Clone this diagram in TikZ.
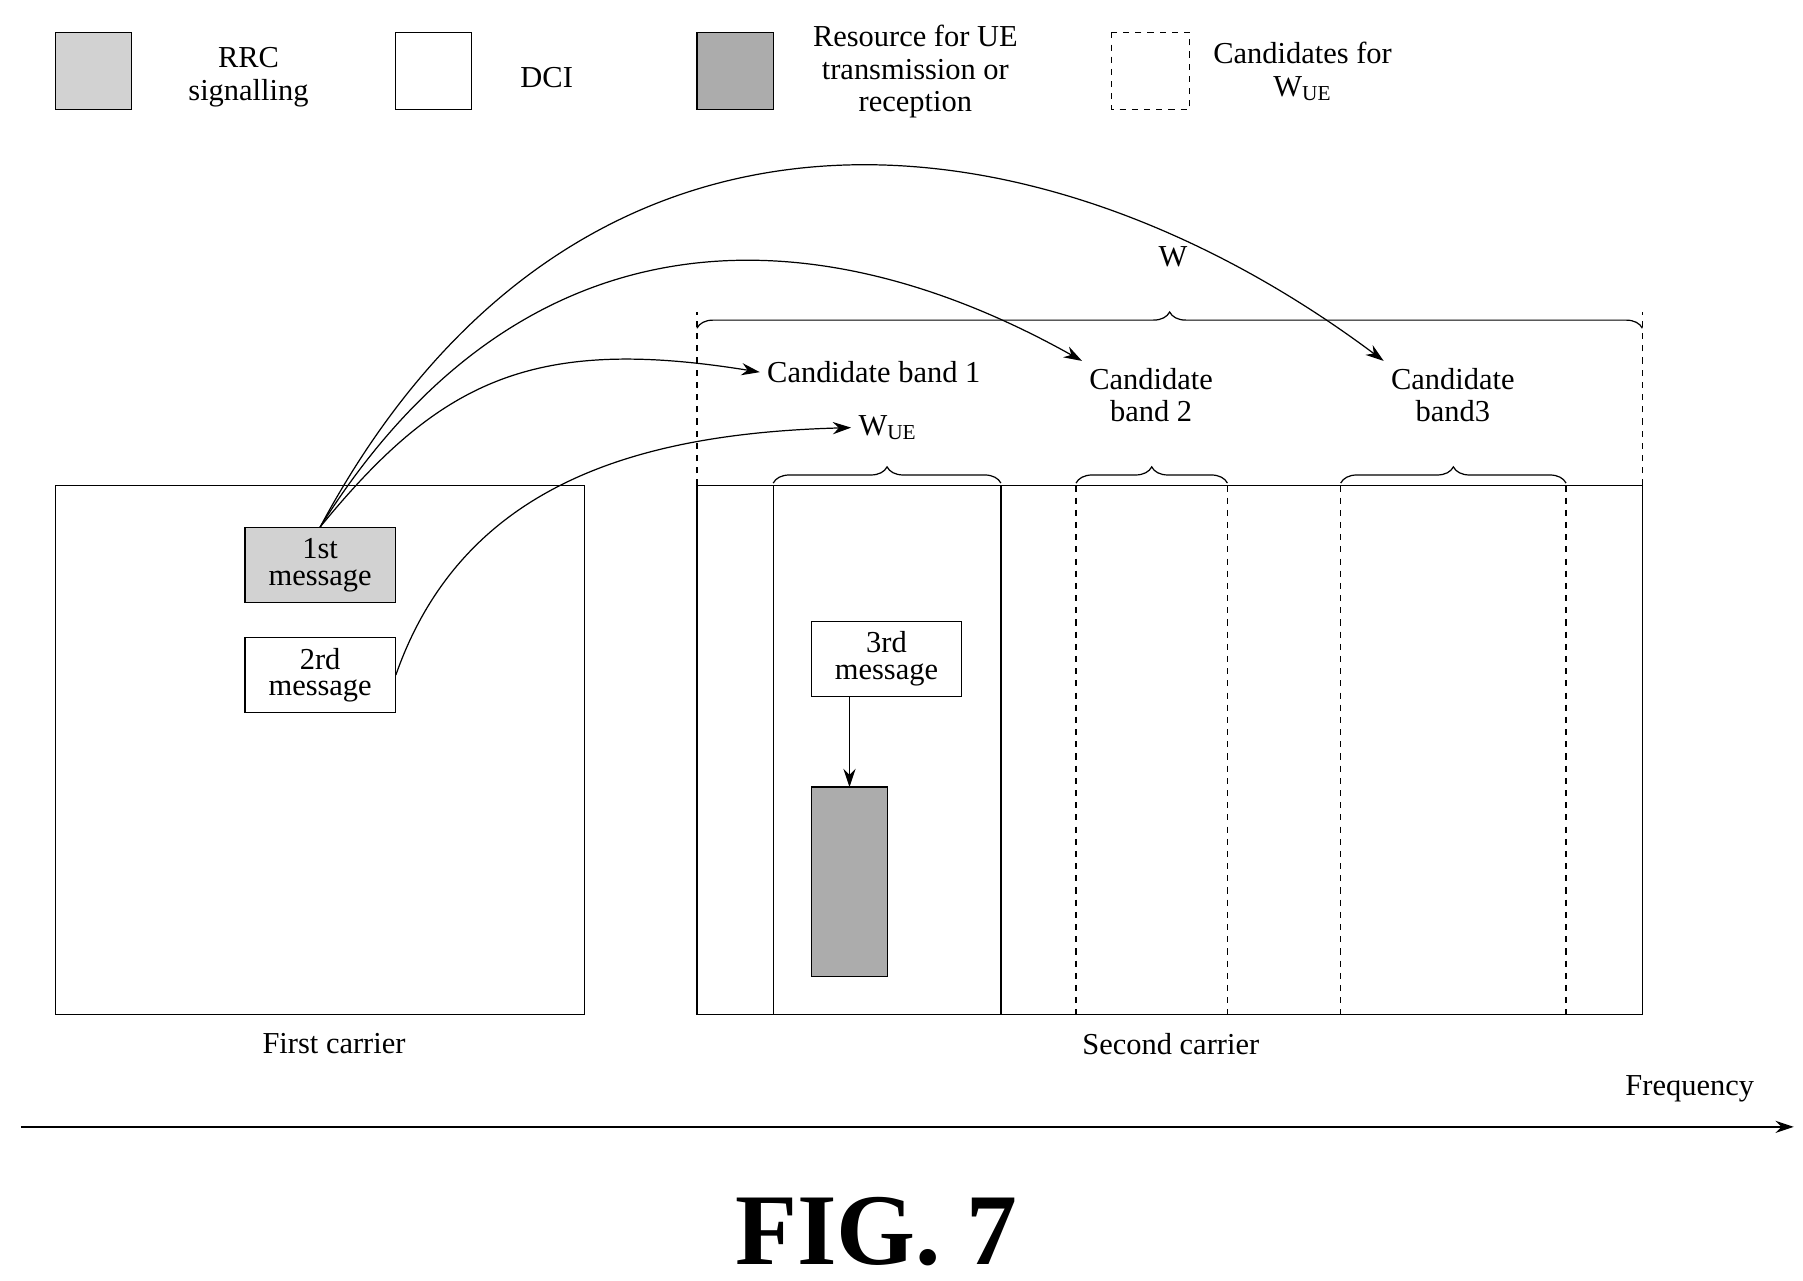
\documentclass[tikz,border=0pt]{standalone}
\usepackage{fontspec}
\setmainfont{Liberation Serif}
\usetikzlibrary{arrows, arrows.meta, positioning, decorations.pathreplacing}

\begin{document}
\begin{tikzpicture}[
            x = 0.02cm, y = -0.02cm,
            > = {Stealth[length=9pt, width=6pt]}, % arrow head style
            semithick, % line style
            font = \fontsize{15}{16}\selectfont
        ]

        \tikzset{
            rrc/.style = {draw, fill = gray!35},
            res/.style = {draw, fill = gray!65},
            cand/.style = {draw, dashed},
            msg/.style = {draw, minimum width = 2.6cm, minimum height = 1.3cm, align = center, inner sep = 1pt, font = \fontsize{15}{13}\selectfont},
            lbl/.style = {align = center},
            brc/.style = {decorate, decoration = {brace, amplitude = 8pt}}
        }

        \useasboundingbox (0,0) rectangle (1560,1108);

	% legend
	\draw[rrc] (48,28) rectangle (114,95);
	\node[lbl] (lrrc) at (215,67) {RRC\\signalling};
	\draw (342,28) rectangle (408,95);
	\node[lbl] (ldci) at (473,67) {DCI};
	\draw[res] (603,28) rectangle (669,95);
	\node[lbl] (lres) at (792,62) {Resource for UE\\transmission or\\reception};
	\draw[cand] (962,28) rectangle (1029,95);
	\node[lbl] (lcand) at (1127,62) {Candidates for\\W\textsubscript{UE}};

	% carriers
	\draw (48,420) rectangle (506,878);
	\node (first) at (289,903) {First carrier};
	\draw (603,420) rectangle (1421,878);
	\node (second) at (1013,903) {Second carrier};
	\draw (669,420) rectangle (866,878);
	\draw[cand] (931,420) -- (931,878) (1062,420) -- (1062,878);
	\draw[cand] (1160,420) -- (1160,878) (1355,420) -- (1355,878);
	\draw[cand] (603,420) -- (603,270) (1421,420) -- (1421,270);

	% braces
	\draw[brc] (603,284) -- (1421,284);
	\node (w) at (1015,222) {W};
	\draw[brc] (669,418) -- (866,418);
	\draw[brc] (931,418) -- (1062,418);
	\draw[brc] (1160,418) -- (1355,418);

	\node (band1) at (756,322) {Candidate band 1};
	\node (wue) at (768,370) {W\textsubscript{UE}};
	\node[lbl] (band2) at (996,342) {Candidate\\band 2};
	\node[lbl] (band3) at (1257,342) {Candidate\\band3};

	% messages
	\node[msg, rrc] (msg1) at (277,489) {1st\\message};
	\node[msg] (msg2) at (277,584) {2rd\\message};
	\node[msg] (msg3) at (767,570) {3rd\\message};
	\draw[res] (702,681) rectangle (768,845);
	\coordinate (resc) at (735,681);

	\draw[->] (msg1.north) .. controls (380,330) and (460,290) .. (band1.west);
	\draw[->] (msg1.north) .. controls (450,180) and (700,180) .. (band2.north west);
	\draw[->] (msg1.north) .. controls (500,40) and (900,90) .. (band3.north west);
	\draw[->] (msg2.east) .. controls (400,420) and (550,375) .. (wue.west);
	\draw[->] (msg3.south -| resc) -- (resc);

	% frequency axis
	\coordinate (f0) at (18,975);
	\coordinate (f1) at (1552,975);
	\draw[thick, ->] (f0) -- (f1);
	\node (freq) at (1462,942) {Frequency};

	\node[font = \fontsize{50}{52}\selectfont\bfseries] (fig) at (758,1066) {FIG. 7};

    \end{tikzpicture}
\end{document}
